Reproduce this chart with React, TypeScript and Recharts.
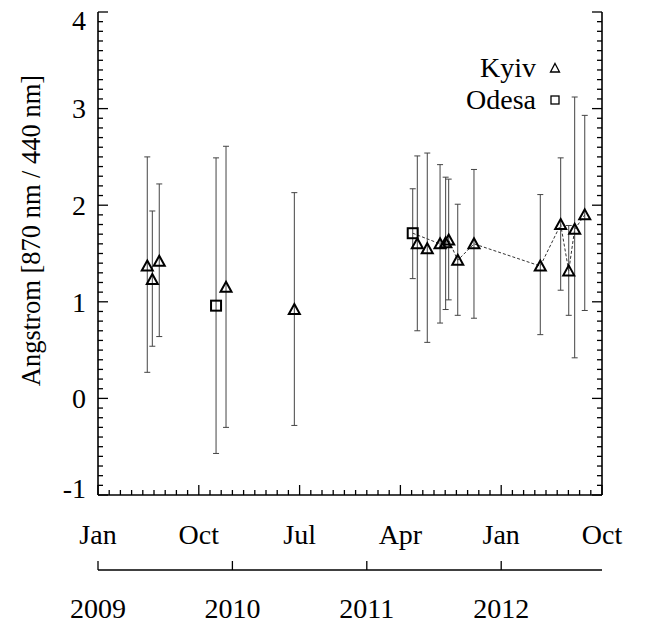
import React from 'react';
import { ComposedChart, XAxis, YAxis, Scatter, Line, ErrorBar, Legend } from 'recharts';

// time axis: months since Jan 2009
const KYIV_T = [4.4, 4.85, 5.47, 11.43, 17.53, 28.51, 29.4, 30.54, 31.04, 31.31, 32.12, 33.57, 39.49, 41.31, 42.03, 42.56, 43.46];
const KYIV_V = [1.37, 1.23, 1.42, 1.15, 0.92, 1.6, 1.55, 1.6, 1.61, 1.64, 1.43, 1.6, 1.37, 1.8, 1.32, 1.75, 1.9];
const KYIV_LO = [0.27, 0.54, 0.64, -0.3, -0.28, 0.7, 0.58, 0.78, 0.92, 1.02, 0.86, 0.83, 0.66, 1.12, 0.86, 0.42, 0.91];
const KYIV_HI = [2.5, 1.94, 2.22, 2.61, 2.13, 2.51, 2.54, 2.42, 2.29, 2.27, 2.01, 2.37, 2.11, 2.49, 1.79, 3.12, 2.93];

const ODESA_T = [10.54, 28.1];
const ODESA_V = [0.96, 1.71];
const ODESA_LO = [-0.57, 1.24];
const ODESA_HI = [2.49, 2.17];

const SERIES_NAMES = ['Kyiv', 'Odesa'];
const MONTH_MAJOR = [0, 9, 18, 27, 36, 45];
const MONTH_LABELS = ['Jan', 'Oct', 'Jul', 'Apr', 'Jan', 'Oct'];
const YEAR_TICKS = [0, 12, 24, 36];
const YEAR_LABELS = ['2009', '2010', '2011', '2012'];
const Y_MAJOR = [-1, 0, 1, 2, 3, 4];

const MONTH_TICKS = Array.from({ length: 46 }, (_, i) => i);
const Y_TICKS = Array.from({ length: 51 }, (_, i) => Math.round((-1 + i * 0.1) * 10) / 10);

const FONT = '"Liberation Serif", "Times New Roman", serif';
const FS = 28;

const build = (t: number[], v: number[], lo: number[], hi: number[]) =>
  t.map((x, i) => ({ t: x, v: v[i], err: [v[i] - lo[i], hi[i] - v[i]] }));

const kyivData = build(KYIV_T, KYIV_V, KYIV_LO, KYIV_HI);
const odesaData = build(ODESA_T, ODESA_V, ODESA_LO, ODESA_HI);
// dashed link through the 2011-2012 points
const linkData = [odesaData[1], ...kyivData.slice(7)];

const isMajorY = (v: number) => Math.abs(v - Math.round(v)) < 1e-6;

const BottomTick = (props: any) => {
  const { x, y, payload } = props;
  const idx = MONTH_MAJOR.indexOf(payload.value);
  const major = idx >= 0;
  return (
    <g>
      <line x1={x} y1={y} x2={x} y2={y - (major ? 10 : 5)} stroke="#000" strokeWidth={1.3} />
      {major && (
        <text x={x} y={y + 39} dy="0.35em" textAnchor="middle" fontSize={FS} fontFamily={FONT} fill="#000">
          {MONTH_LABELS[idx]}
        </text>
      )}
    </g>
  );
};

const TopTick = (props: any) => {
  const { x, y, payload } = props;
  const major = MONTH_MAJOR.includes(payload.value);
  return <line x1={x} y1={y} x2={x} y2={y + (major ? 10 : 5)} stroke="#000" strokeWidth={1.3} />;
};

const LeftTick = (props: any) => {
  const { x, y, payload } = props;
  const v = payload.value;
  const major = isMajorY(v);
  const shift = v === 4 ? 8 : v === -1 ? -7 : 0;
  return (
    <g>
      <line x1={x} y1={y} x2={x + (major ? 10 : 5)} y2={y} stroke="#000" strokeWidth={1.3} />
      {major && Y_MAJOR.includes(Math.round(v)) && (
        <text x={x - 12} y={y + shift} dy="0.35em" textAnchor="end" fontSize={FS} fontFamily={FONT} fill="#000">
          {Math.round(v)}
        </text>
      )}
    </g>
  );
};

const RightTick = (props: any) => {
  const { x, y, payload } = props;
  const major = isMajorY(payload.value);
  return <line x1={x} y1={y} x2={x - (major ? 10 : 5)} y2={y} stroke="#000" strokeWidth={1.3} />;
};

const YearTick = (props: any) => {
  const { x, y, payload } = props;
  const idx = YEAR_TICKS.indexOf(payload.value);
  return (
    <g>
      <line x1={x} y1={y} x2={x} y2={y - 9} stroke="#000" strokeWidth={1.3} />
      <text x={x} y={y + 38} dy="0.35em" textAnchor="middle" fontSize={FS} fontFamily={FONT} fill="#000">
        {YEAR_LABELS[idx]}
      </text>
    </g>
  );
};

const Triangle = (props: any) => {
  const { cx, cy } = props;
  return (
    <path
      d={`M${cx},${cy - 5.5} L${cx + 5.5},${cy + 4.5} L${cx - 5.5},${cy + 4.5} Z`}
      fill="none"
      stroke="#000"
      strokeWidth={2}
    />
  );
};

const Square = (props: any) => {
  const { cx, cy } = props;
  return <rect x={cx - 5} y={cy - 5} width={10} height={10} fill="none" stroke="#000" strokeWidth={2} />;
};

const LegendContent = (props: any) => {
  const rows = [68, 100];
  const items = (props.payload || []).filter((e: any) => SERIES_NAMES.includes(e.value));
  return (
    <div style={{ position: 'relative', fontFamily: FONT, fontSize: FS, color: '#000' }}>
      {items.map((entry: any, i: number) => (
        <div key={entry.value} style={{ position: 'absolute', top: rows[i] - 16, left: 0, width: 645, height: 32 }}>
          <span style={{ position: 'absolute', left: 400, width: 136, textAlign: 'right', lineHeight: '32px' }}>
            {entry.value}
          </span>
          <svg style={{ position: 'absolute', left: 549, top: 10 }} width={12} height={12}>
            {entry.value === 'Kyiv' ? (
              <path d="M6,1.5 L10.5,10 L1.5,10 Z" fill="none" stroke="#000" strokeWidth={1.3} />
            ) : (
              <rect x={2} y={2} width={8} height={8} fill="none" stroke="#000" strokeWidth={1.3} />
            )}
          </svg>
        </div>
      ))}
    </div>
  );
};

const YLabel = (props: any) => {
  const vb = props.viewBox;
  const cx = vb.x + 31;
  const cy = vb.y + vb.height / 2 - 23;
  return (
    <text
      x={cx}
      y={cy}
      dy="0.35em"
      textAnchor="middle"
      fontSize={26.5}
      fontFamily={FONT}
      fill="#000"
      transform={`rotate(-90, ${cx}, ${cy})`}
    >
      Angstrom [870 nm / 440 nm]
    </text>
  );
};

const axisLine = { stroke: '#000', strokeWidth: 1.6 };

export default function App() {
  return (
    <div style={{ position: 'absolute', left: 0, top: 0, width: 645, height: 626, background: '#fff' }}>
      <ComposedChart width={645} height={626} margin={{ top: 12, right: 0, bottom: 0, left: 0 }}>
        <XAxis
          xAxisId="main"
          dataKey="t"
          type="number"
          domain={[0, 45]}
          allowDataOverflow
          ticks={MONTH_TICKS}
          interval={0}
          height={75}
          tickSize={0}
          tickMargin={0}
          tickLine={false}
          axisLine={axisLine}
          tick={BottomTick}
        />
        <XAxis
          xAxisId="year"
          dataKey="t"
          type="number"
          domain={[0, 45]}
          allowDataOverflow
          ticks={YEAR_TICKS}
          interval={0}
          height={56}
          tickSize={0}
          tickMargin={0}
          tickLine={false}
          axisLine={axisLine}
          tick={YearTick}
        />
        <XAxis
          xAxisId="top"
          orientation="top"
          dataKey="t"
          type="number"
          domain={[0, 45]}
          allowDataOverflow
          ticks={MONTH_TICKS}
          interval={0}
          height={0}
          tickSize={0}
          tickMargin={0}
          tickLine={false}
          axisLine={axisLine}
          tick={TopTick}
        />
        <YAxis
          yAxisId="left"
          dataKey="v"
          type="number"
          domain={[-1, 4]}
          allowDataOverflow
          ticks={Y_TICKS}
          interval={0}
          width={98}
          tickSize={0}
          tickMargin={0}
          tickLine={false}
          axisLine={axisLine}
          tick={LeftTick}
          label={YLabel}
        />
        <YAxis
          yAxisId="right"
          orientation="right"
          type="number"
          domain={[-1, 4]}
          allowDataOverflow
          ticks={Y_TICKS}
          interval={0}
          width={43}
          tickSize={0}
          tickMargin={0}
          tickLine={false}
          axisLine={axisLine}
          tick={RightTick}
        />
        <Legend
          layout="horizontal"
          verticalAlign="middle"
          align="center"
          wrapperStyle={{ top: 0, left: 0, width: 645, height: 0 }}
          content={LegendContent}
        />
        <Line
          xAxisId="main"
          yAxisId="left"
          data={linkData}
          dataKey="v"
          stroke="#333"
          strokeWidth={1}
          strokeDasharray="3 2"
          dot={false}
          activeDot={false}
          legendType="none"
          isAnimationActive={false}
        />
        <Scatter
          name="Kyiv"
          xAxisId="main"
          yAxisId="left"
          data={kyivData}
          dataKey="v"
          shape={Triangle}
          isAnimationActive={false}
        >
          <ErrorBar dataKey="err" direction="y" width={3} stroke="#444" strokeWidth={1} isAnimationActive={false} />
        </Scatter>
        <Scatter
          name="Odesa"
          xAxisId="main"
          yAxisId="left"
          data={odesaData}
          dataKey="v"
          shape={Square}
          isAnimationActive={false}
        >
          <ErrorBar dataKey="err" direction="y" width={3} stroke="#444" strokeWidth={1} isAnimationActive={false} />
        </Scatter>
      </ComposedChart>
    </div>
  );
}
